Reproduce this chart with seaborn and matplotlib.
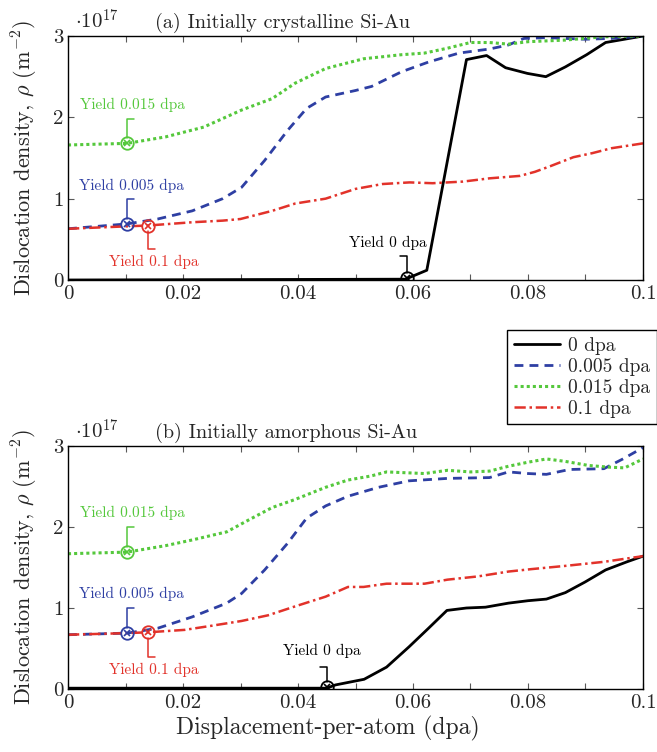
import numpy as np
import pandas as pd
import matplotlib
matplotlib.use("Agg")
import matplotlib.pyplot as plt
import seaborn as sns

# ---------------- data ----------------
# (a) initially crystalline
a_x0 = [0, 0.0587, 0.0624, 0.0693, 0.0728, 0.0761, 0.0799, 0.0831, 0.0865, 0.0902, 0.0935, 0.1]
a_y0 = [0, 0.01, 0.12, 2.71, 2.76, 2.61, 2.54, 2.50, 2.62, 2.77, 2.92, 3.0]

a_x005 = [0, 0.0103, 0.0156, 0.0216, 0.0269, 0.0302, 0.0342, 0.0382, 0.0415, 0.0448, 0.05,
          0.0528, 0.058, 0.0627, 0.068, 0.0733, 0.0766, 0.0793, 0.0832, 0.0899, 0.0945, 0.1]
a_y005 = [0.63, 0.69, 0.75, 0.85, 1.0, 1.14, 1.47, 1.84, 2.11, 2.25, 2.33,
          2.38, 2.56, 2.68, 2.79, 2.84, 2.89, 2.97, 2.98, 2.96, 2.97, 3.0]

a_x015 = [0, 0.0103, 0.017, 0.0236, 0.0302, 0.0355, 0.0395, 0.0448, 0.0514, 0.058, 0.062,
          0.066, 0.07, 0.0733, 0.0766, 0.08, 0.0865, 0.093, 0.1]
a_y015 = [1.66, 1.68, 1.76, 1.88, 2.09, 2.23, 2.42, 2.60, 2.72, 2.77, 2.79,
          2.85, 2.92, 2.92, 2.90, 2.93, 2.95, 2.99, 3.0]

a_x1 = [0, 0.0103, 0.0139, 0.0216, 0.0269, 0.030, 0.0355, 0.0395, 0.0448, 0.05, 0.0547,
        0.0594, 0.0634, 0.0687, 0.0733, 0.0786, 0.0812, 0.0839, 0.0879, 0.0912, 0.0945, 0.1]
a_y1 = [0.63, 0.66, 0.67, 0.71, 0.73, 0.75, 0.85, 0.94, 1.0, 1.12, 1.18,
        1.20, 1.19, 1.21, 1.25, 1.28, 1.33, 1.40, 1.51, 1.56, 1.62, 1.68]

# (b) initially amorphous
b_x0 = [0, 0.045, 0.0465, 0.0515, 0.0554, 0.0593, 0.0627, 0.0659, 0.0693, 0.0726, 0.0766,
        0.08, 0.0832, 0.0865, 0.0899, 0.0935, 0.0972, 0.1]
b_y0 = [0.01, 0.01, 0.05, 0.12, 0.27, 0.52, 0.75, 0.97, 1.0, 1.01, 1.06,
        1.09, 1.11, 1.19, 1.32, 1.47, 1.57, 1.64]

b_x005 = [0, 0.0103, 0.0156, 0.0216, 0.0276, 0.0302, 0.0342, 0.0382, 0.0415, 0.0448, 0.0487,
          0.054, 0.0593, 0.066, 0.0733, 0.0766, 0.08, 0.0832, 0.0872, 0.0932, 0.0965, 0.1]
b_y005 = [0.67, 0.69, 0.75, 0.89, 1.06, 1.18, 1.47, 1.80, 2.11, 2.26, 2.38,
          2.49, 2.57, 2.60, 2.61, 2.68, 2.66, 2.65, 2.71, 2.72, 2.84, 2.98]

b_x015 = [0, 0.0103, 0.017, 0.0216, 0.0276, 0.0315, 0.0355, 0.0395, 0.0448, 0.0487, 0.0527,
          0.0554, 0.062, 0.066, 0.07, 0.0733, 0.0766, 0.08, 0.0832, 0.0865, 0.0905, 0.0938,
          0.0968, 0.1]
b_y015 = [1.67, 1.69, 1.77, 1.84, 1.94, 2.09, 2.24, 2.34, 2.49, 2.58, 2.63,
          2.68, 2.66, 2.70, 2.68, 2.69, 2.75, 2.80, 2.84, 2.81, 2.76, 2.74,
          2.73, 2.84]

b_x1 = [0, 0.0103, 0.0139, 0.0203, 0.0249, 0.0302, 0.0348, 0.0395, 0.0448, 0.0487, 0.0514,
        0.0554, 0.062, 0.066, 0.0713, 0.0766, 0.0806, 0.0865, 0.0932, 0.1]
b_y1 = [0.67, 0.69, 0.70, 0.73, 0.78, 0.84, 0.91, 1.02, 1.14, 1.26, 1.26,
        1.30, 1.30, 1.35, 1.39, 1.45, 1.48, 1.52, 1.57, 1.64]

# yield points (x, y) per series: 0, 0.005, 0.015, 0.1 dpa
a_yield_x = [0.0589, 0.0103, 0.0103, 0.0139]
a_yield_y = [0.02, 0.69, 1.68, 0.67]
b_yield_x = [0.045, 0.0103, 0.0103, 0.0139]
b_yield_y = [0.02, 0.69, 1.69, 0.70]

series_labels = ["0 dpa", "0.005 dpa", "0.015 dpa", "0.1 dpa"]
yield_labels = ["Yield 0 dpa", "Yield 0.005 dpa", "Yield 0.015 dpa", "Yield 0.1 dpa"]
xtick_vals = [0, 0.02, 0.04, 0.06, 0.08, 0.1]
xtick_labels = ["0", "0.02", "0.04", "0.06", "0.08", "0.1"]
ytick_vals = [0, 1, 2, 3]
ytick_labels = ["0", "1", "2", "3"]
panel_titles = ["(a) Initially crystalline Si-Au", "(b) Initially amorphous Si-Au"]

# ---------------- style ----------------
sns.set_theme(style="ticks")
plt.rcParams["font.family"] = ["cmr10", "DejaVu Serif"]
plt.rcParams["mathtext.fontset"] = "cm"
plt.rcParams["axes.formatter.use_mathtext"] = True
plt.rcParams["axes.unicode_minus"] = False

colors = ["black", "#2E3FA3", "#55C83C", "#E2322A"]
styles = ["-", (0, (3.2, 2.2)), (0, (1.0, 1.0)), (0, (4.5, 1.5, 1.0, 1.5))]
widths = [2.0, 2.0, 2.2, 1.8]

fig = plt.figure(figsize=(6.57, 7.52), dpi=100)
W, H = 657, 752
axA = fig.add_axes([68 / W, 1 - 280 / H, 575 / W, 244 / H])
axB = fig.add_axes([68 / W, 1 - 689 / H, 575 / W, 243 / H])

panels = [
    (axA, [(a_x0, a_y0), (a_x005, a_y005), (a_x015, a_y015), (a_x1, a_y1)], a_yield_x, a_yield_y),
    (axB, [(b_x0, b_y0), (b_x005, b_y005), (b_x015, b_y015), (b_x1, b_y1)], b_yield_x, b_yield_y),
]

# annotation geometry (data units): leader end y, label pos
ann = {
    0: [dict(ly=0.29, tx=0.0557, ty=0.46), dict(ly=1.00, tx=0.0110, ty=1.16),
        dict(ly=1.98, tx=0.0113, ty=2.15), dict(ly=0.38, tx=0.0150, ty=0.22)],
    1: [dict(ly=0.27, tx=0.0441, ty=0.47), dict(ly=1.00, tx=0.0110, ty=1.17),
        dict(ly=2.00, tx=0.0113, ty=2.17), dict(ly=0.40, tx=0.0150, ty=0.24)],
}

for pi, (ax, series, yx, yy) in enumerate(panels):
    for i, (xs, ys) in enumerate(series):
        df = pd.DataFrame({"x": xs, "y": ys})
        sns.lineplot(data=df, x="x", y="y", ax=ax, color=colors[i], linestyle=styles[i],
                     linewidth=widths[i], label=series_labels[i], sort=False,
                     estimator=None, legend=False)
    for i in range(4):
        c = colors[i]
        x0, y0 = yx[i], yy[i]
        a = ann[pi][i]
        ax.plot([x0], [y0], marker="o", ms=9, mfc="none", mec=c, mew=1.3, zorder=5)
        ax.plot([x0], [y0], marker="x", ms=5, mec=c, mew=1.2, zorder=5)
        r = 0.065
        ys0 = y0 + r if a["ly"] > y0 else y0 - r
        dx = -0.0012 if i == 0 else 0.0012
        ax.plot([x0, x0, x0 + dx], [ys0, a["ly"], a["ly"]], color=c, lw=1.1)
        ax.text(a["tx"], a["ty"], yield_labels[i], color=c, fontsize=11,
                ha="center", va="center")

    ax.set_xlim(0, 0.1)
    ax.set_ylim(0, 3)
    ax.set_xticks(xtick_vals)
    ax.set_xticklabels(xtick_labels)
    ax.set_xticks(np.arange(0.01, 0.1, 0.02), minor=True)
    ax.set_yticks(ytick_vals)
    ax.set_yticklabels(ytick_labels)
    ax.tick_params(which="both", direction="in", top=True, right=True, length=4.5,
                   width=0.8, labelsize=15, pad=3, color="0.35")
    ax.tick_params(axis="x", which="major", pad=4)
    for s in ax.spines.values():
        s.set_linewidth(1.0)
        s.set_color("black")
    ax.set_xlabel("")
    ax.set_ylabel(r"Dislocation density, $\rho$ (m$^{-2}$)", fontsize=16)
    ax.yaxis.set_label_coords(-0.049, 0.5)
    ax.text(0.012, 1.012, r"$\cdot 10^{17}$", transform=ax.transAxes, fontsize=15,
            ha="left", va="bottom")
    ax.text(0.151, 1.012, panel_titles[pi], transform=ax.transAxes, fontsize=14.5,
            ha="left", va="bottom")

axB.set_xlabel("Displacement-per-atom (dpa)", fontsize=17)
axB.xaxis.set_label_coords(260 / 575, -0.11)

handles, labels = axA.get_legend_handles_labels()
leg = fig.legend(handles, labels, loc="upper right", bbox_to_anchor=(1.0, 1 - 330 / H),
                 fontsize=14, frameon=True, fancybox=False, edgecolor="black",
                 framealpha=1, handlelength=2.4, handletextpad=0.4, borderpad=0.35,
                 labelspacing=0.15, borderaxespad=0.0)
leg.get_frame().set_linewidth(1.0)

fig.savefig("out.png", dpi=100)
